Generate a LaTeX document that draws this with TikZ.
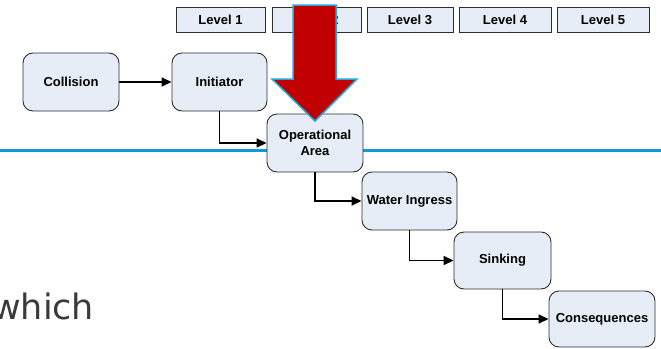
\documentclass[tikz,border=0pt]{standalone}
\usepackage{fontspec}
\setmainfont{Liberation Sans}
\newfontfamily\bodyfont{DejaVu Sans}
\usetikzlibrary{arrows.meta}
\definecolor{boxfill}{RGB}{231,237,247}
\definecolor{boxline}{RGB}{45,45,45}
\definecolor{rule}{RGB}{12,154,216}
\definecolor{bigred}{RGB}{192,0,0}
\definecolor{redrim}{RGB}{40,166,222}
\definecolor{bodygray}{RGB}{58,58,58}
\tikzset{
  stage/.style={draw=boxline, line width=0.9pt, fill=boxfill, rounded corners=10pt,
    minimum height=58pt, inner sep=2pt, align=center,
    font=\fontsize{13}{16}\selectfont\bfseries},
  levelbox/.style={draw=boxline, line width=0.9pt, fill=boxfill,
    minimum height=25pt, inner sep=0pt,
    font=\fontsize{13}{16}\selectfont\bfseries},
  flow/.style={line width=1.6pt, -{Triangle[length=10pt,width=9pt]}}
}
\begin{document}
\begin{tikzpicture}[x=1pt,y=-1pt]
  \useasboundingbox (0,0) rectangle (661,348);
  \clip (0,0) rectangle (661,348);

  % horizontal divider, behind the stages
  \draw[rule, line width=2.5pt] (0,150.5) -- (661,150.5);

  % level header row
  \node[levelbox, minimum width=89pt] (l1) at (220.5,19.5) {Level 1};
  \node[levelbox, minimum width=89pt] (l2) at (316.5,19.5) {Level 2};
  \node[levelbox, minimum width=86pt] (l3) at (410,19.5) {Level 3};
  \node[levelbox, minimum width=92pt] (l4) at (505,19.5) {Level 4};
  \node[levelbox, minimum width=92pt] (l5) at (603,19.5) {Level 5};

  % event chain
  \node[stage, minimum width=96pt]  (col) at (71,82)      {Collision};
  \node[stage, minimum width=95pt]  (ini) at (219.5,82)   {Initiator};
  \node[stage, minimum width=96pt]  (ops) at (315,143)    {Operational\\Area};
  \node[stage, minimum width=95pt]  (wat) at (409.5,201)  {Water Ingress};
  \node[stage, minimum width=97pt, minimum height=57pt]  (snk) at (502.5,260.5) {Sinking};
  \node[stage, minimum width=106pt, minimum height=56pt] (con) at (602,319)    {Consequences};

  \draw[flow] (col) -- (ini);
  \draw[flow] (ini.south) |- (ops.west);
  \draw[flow] (ops.south) |- (wat.west);
  \draw[flow] (wat.south) |- (snk.west);
  \draw[flow] (snk.south) |- (con.west);

  % large red pointer onto the operational stage
  \draw[redrim, line width=1.5pt, fill=bigred, line join=miter]
    (293,5) -- (336,5) -- (336,79) -- (357,79) -- (315,121)
    -- (272,79) -- (293,79) -- cycle;

  % body text
  \node[anchor=base west, inner sep=0pt, text=bodygray,
        font=\bodyfont\fontsize{35}{40}\selectfont] (word) at (-8,319.5) {which};
\end{tikzpicture}
\end{document}
